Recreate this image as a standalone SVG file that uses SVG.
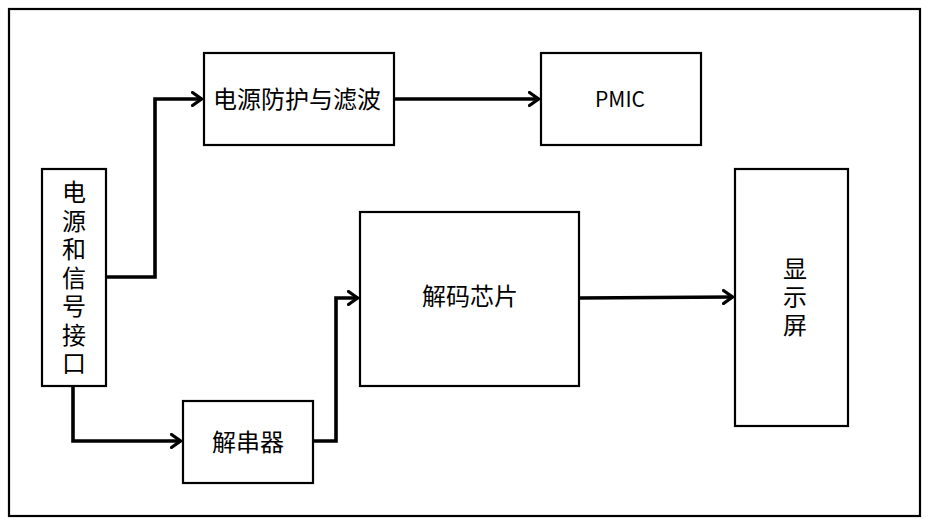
<svg xmlns="http://www.w3.org/2000/svg" width="930" height="526" viewBox="0 0 930 526">
<defs>
<style>
.box{fill:#fff;stroke:#000;stroke-width:2.2}
.frame{fill:#fff;stroke:#000;stroke-width:2.2}
.t{font-family:"Noto Sans CJK SC","Noto Sans",sans-serif;font-size:24px;fill:#000;text-anchor:middle;dominant-baseline:central}
.v{font-family:"Noto Sans CJK SC","Noto Sans",sans-serif;font-size:24px;fill:#000;text-anchor:middle;writing-mode:vertical-rl;text-orientation:upright}
.c{fill:none;stroke:#000;stroke-width:3.6;stroke-linejoin:miter}
</style>
<marker id="arr" viewBox="0 0 12 16" refX="11" refY="8" markerWidth="12" markerHeight="16" markerUnits="userSpaceOnUse" orient="auto">
<path d="M1.5,1.5 L10.5,8 L1.5,14.5" fill="none" stroke="#000" stroke-width="3.2" stroke-linecap="round" stroke-linejoin="miter"/>
</marker>
</defs>
<rect x="0" y="0" width="930" height="526" fill="#fff"/>
<rect class="frame" x="9" y="9" width="911" height="507"/>
<g id="connectors">
<path class="c" d="M106,277 H155 V99 H202" marker-end="url(#arr)"/>
<path class="c" d="M394,99 H539" marker-end="url(#arr)"/>
<path class="c" d="M73,386 V441 H181" marker-end="url(#arr)"/>
<path class="c" d="M313,441 H336 V298 H358" marker-end="url(#arr)"/>
<path class="c" d="M579,298 L733,297" marker-end="url(#arr)"/>
</g>
<g id="power_protect">
<rect class="box" x="204" y="53" width="190" height="92"/>
<text class="t" x="297" y="97.5">电源防护与滤波</text>
</g>
<g id="pmic">
<rect class="box" x="541" y="53" width="160" height="92"/>
<text class="t" x="620" y="98" style="font-size:21px">PMIC</text>
</g>
<g id="interface">
<rect class="box" x="42" y="169" width="64" height="217"/>
<text class="v" x="74" y="280" style="letter-spacing:4.5px">电源和信号接口</text>
</g>
<g id="deserializer">
<rect class="box" x="183" y="401" width="130" height="82"/>
<text class="t" x="248" y="440.5">解串器</text>
</g>
<g id="decoder">
<rect class="box" x="360" y="212" width="219" height="174"/>
<text class="t" x="470" y="294.5">解码芯片</text>
</g>
<g id="display">
<rect class="box" x="735" y="169" width="113" height="257"/>
<text class="v" x="795" y="299" style="letter-spacing:4px">显示屏</text>
</g>
</svg>
